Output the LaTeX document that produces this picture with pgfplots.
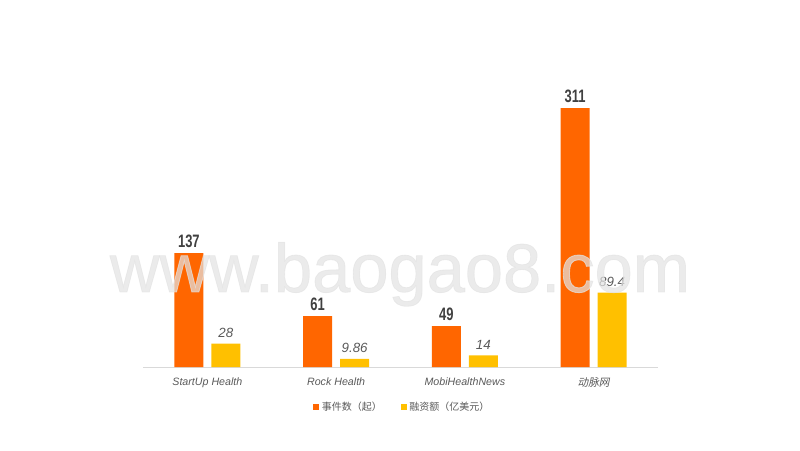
\documentclass[border=0pt]{standalone}
\usepackage{pgfplots}
\pgfplotsset{compat=1.18}
\usepackage{fontspec}
\setmainfont{Liberation Sans}
\newfontfamily\cjk{Noto Sans CJK SC}
\newfontfamily\cjkit[FakeSlant=0.2]{Noto Sans CJK SC}
\newfontfamily\nb[FakeStretch=0.72]{Liberation Sans}
\newfontfamily\wm[FakeBold=1.2]{Liberation Sans}
\definecolor{cOrange}{HTML}{FF6600}
\definecolor{cYellow}{HTML}{FFC000}
\definecolor{labDark}{HTML}{404040}
\definecolor{labGray}{HTML}{595959}
\definecolor{axGray}{HTML}{D9D9D9}
\begin{document}
\begin{tikzpicture}[x=1pt,y=1pt]
\path (0,0) rectangle (600,337.5);
\begin{axis}[
  at={(107.25pt,62.25pt)}, anchor=south west,
  scale only axis, width=386.25pt, height=218.4pt,
  xmin=-0.5, xmax=3.5, ymin=0, ymax=350,
  axis x line=bottom, axis y line=none,
  x axis line style={draw=axGray, line width=0.75pt, -},
  ybar=6pt, bar width=21.75pt,
  xtick={0,1,2,3},
  xticklabels={StartUp Health, Rock Health, MobiHealthNews, {\cjkit 动脉网}},
  major tick length=0pt,
  xticklabel style={font=\itshape\fontsize{8}{10}\selectfont, text=labGray, yshift=-4.5pt},
  legend style={at={(0.504,-0.137)}, anchor=center, draw=none, fill=none,
    legend columns=2, font=\cjk\fontsize{7.5}{9}\selectfont, text=labGray,
    /tikz/every even column/.append style={column sep=12pt},
    /tikz/every odd column/.append style={column sep=0pt}},
  legend image code/.code={\fill[#1] (0pt,-2.3pt) rectangle (4.6pt,2.3pt);},
  point meta=explicit symbolic,
  nodes near coords,
  clip=false,
]
\addplot[fill=cOrange, draw=none,
  nodes near coords style={font=\nb\bfseries\fontsize{13.5}{13.5}\selectfont, text=labDark, anchor=south, inner sep=4pt}]
  coordinates {(0,137) [137] (1,61) [61] (2,49) [49] (3,311) [311]};
\addlegendentry{事件数（起）}
\addplot[fill=cYellow, draw=none,
  nodes near coords style={font=\itshape\fontsize{10}{10}\selectfont, text=labGray, anchor=south, inner sep=4.5pt}]
  coordinates {(0,28) [28] (1,9.86) [9.86] (2,14) [14] (3,89.4) [89.4]};
\addlegendentry{融资额（亿美元）}
\end{axis}
\node[anchor=base, font=\wm\fontsize{51.5}{51.5}\selectfont, text=gray!22, opacity=0.7] at (300,118.5) {www.baogao8.com};
\end{tikzpicture}
\end{document}
